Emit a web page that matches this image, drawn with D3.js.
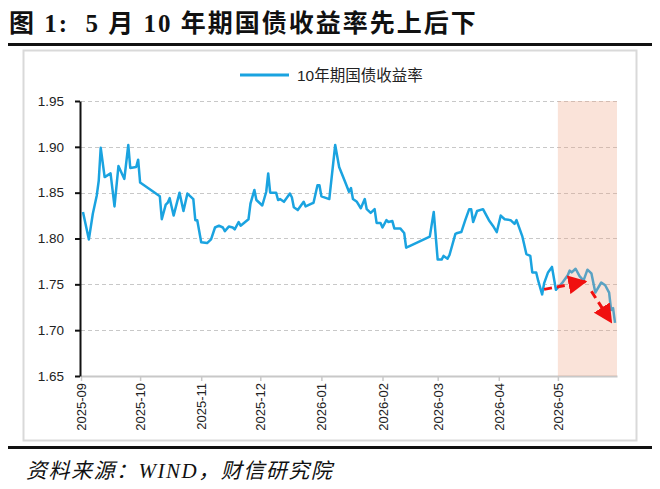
<!DOCTYPE html>
<html>
<head>
<meta charset="utf-8">
<script src="https://cdn.jsdelivr.net/npm/d3@7"></script>
<style>
  body { margin:0; background:#fff; }
  svg { display:block; }
</style>
</head>
<body>
<svg id="chart" width="660" height="489"></svg>
<script>
// data
const dates = [
  "2025-09-02","2025-09-05","2025-09-07","2025-09-09","2025-09-10","2025-09-11","2025-09-13","2025-09-16",
  "2025-09-18","2025-09-20","2025-09-23","2025-09-25","2025-09-26","2025-09-29","2025-09-30","2025-10-01",
  "2025-10-11","2025-10-12","2025-10-14","2025-10-15","2025-10-16","2025-10-18","2025-10-21","2025-10-23",
  "2025-10-25","2025-10-28","2025-10-29","2025-10-30","2025-11-01","2025-11-04","2025-11-06","2025-11-08",
  "2025-11-10","2025-11-12","2025-11-13","2025-11-15","2025-11-17","2025-11-18","2025-11-20","2025-11-21",
  "2025-11-25","2025-11-26","2025-11-28","2025-11-29","2025-12-02","2025-12-04","2025-12-05","2025-12-06",
  "2025-12-09","2025-12-10","2025-12-11","2025-12-13","2025-12-16","2025-12-17","2025-12-18","2025-12-20",
  "2025-12-23","2025-12-24","2025-12-27","2025-12-28","2025-12-30","2025-12-31","2026-01-01","2026-01-05",
  "2026-01-08","2026-01-10","2026-01-13","2026-01-15","2026-01-16","2026-01-17","2026-01-19","2026-01-21",
  "2026-01-23","2026-01-24","2026-01-26","2026-01-28","2026-01-29","2026-01-31","2026-02-01","2026-02-03",
  "2026-02-04","2026-02-06","2026-02-07","2026-02-10","2026-02-12","2026-02-13","2026-02-15","2026-02-25",
  "2026-02-27","2026-03-01","2026-03-03","2026-03-04","2026-03-06","2026-03-07","2026-03-10","2026-03-11",
  "2026-03-13","2026-03-15","2026-03-17","2026-03-18","2026-03-19","2026-03-21","2026-03-24","2026-03-27",
  "2026-03-29","2026-03-31","2026-04-02","2026-04-04","2026-04-07","2026-04-09","2026-04-10","2026-04-13",
  "2026-04-15","2026-04-17","2026-04-18","2026-04-20","2026-04-21","2026-04-23","2026-04-24","2026-04-26",
  "2026-04-28","2026-04-30","2026-05-03","2026-05-06","2026-05-07","2026-05-08","2026-05-10","2026-05-12",
  "2026-05-14","2026-05-16","2026-05-18","2026-05-20","2026-05-23","2026-05-25","2026-05-27","2026-05-28",
  "2026-05-29","2026-05-30"
];
const yields = [
  1.829,1.799,1.827,1.847,1.863,1.899,1.867,1.871,
  1.835,1.879,1.865,1.902,1.877,1.878,1.886,1.861,
  1.846,1.821,1.837,1.839,1.844,1.825,1.850,1.830,
  1.849,1.843,1.820,1.820,1.796,1.795,1.799,1.812,
  1.814,1.812,1.808,1.813,1.812,1.810,1.818,1.814,
  1.821,1.838,1.853,1.842,1.836,1.851,1.871,1.850,
  1.850,1.842,1.843,1.840,1.849,1.845,1.834,1.831,
  1.840,1.835,1.838,1.839,1.858,1.858,1.846,1.843,
  1.902,1.878,1.862,1.851,1.855,1.843,1.840,1.833,
  1.843,1.832,1.828,1.832,1.817,1.817,1.812,1.820,
  1.818,1.819,1.811,1.811,1.806,1.790,1.792,1.802,
  1.829,1.777,1.777,1.781,1.778,1.782,1.805,1.806,
  1.807,1.820,1.832,1.832,1.818,1.830,1.832,1.820,
  1.814,1.807,1.825,1.821,1.820,1.816,1.820,1.802,
  1.783,1.781,1.763,1.763,1.754,1.739,1.751,1.763,
  1.769,1.744,1.751,1.760,1.765,1.763,1.767,1.759,
  1.754,1.766,1.762,1.741,1.752,1.749,1.741,1.722,
  1.724,1.708
];
const seriesName = "10年期国债收益率";
const yTicks = [1.65, 1.70, 1.75, 1.80, 1.85, 1.90, 1.95];
const monthTicks = ["2025-09","2025-10","2025-11","2025-12","2026-01","2026-02","2026-03","2026-04","2026-05"];
const xDomain = ["2025-09-01", "2026-05-31"];
const shadeRange = ["2026-05-01", "2026-05-31"];
// red dashed arrows: [fromDate, fromValue, toDate, toValue]
const arrows = [
  ["2026-04-24", 1.7445, "2026-05-15", 1.7530],
  ["2026-05-18", 1.7425, "2026-05-28", 1.7090]
];

const title = "图 1:  5 月 10 年期国债收益率先上后下";
const source = "资料来源：WIND，财信研究院";

const parseDay = d3.timeParse("%Y-%m-%d");
const parseMonth = d3.timeParse("%Y-%m");

const svg = d3.select("#chart");
const plot = { left:81, right:617, top:101, bottom:376 };

const x = d3.scaleTime()
  .domain(xDomain.map(parseDay))
  .range([plot.left, plot.right]);
const y = d3.scaleLinear()
  .domain([1.65, 1.95])
  .range([plot.bottom, plot.top]);

const data = dates.map((d,i) => ({ date:parseDay(d), value:yields[i] }));

//title + rules
svg.append("text")
  .attr("x", 9).attr("y", 32)
  .attr("font-family", "'Liberation Serif', 'Noto Sans CJK SC'")
  .attr("font-weight", 700)
  .attr("font-size", 25)
  .attr("letter-spacing", 2)
  .style("white-space", "pre")
  .attr("fill", "#111")
  .text(title);

svg.append("line")
  .attr("x1", 8).attr("x2", 652).attr("y1", 44.5).attr("y2", 44.5)
  .attr("stroke", "#111").attr("stroke-width", 3);

svg.append("rect")
  .attr("x", 23.5).attr("y", 50.5).attr("width", 613).attr("height", 390)
  .attr("fill", "#fff").attr("stroke", "#d9d9d9").attr("stroke-width", 2);

svg.append("line")
  .attr("x1", 8).attr("x2", 652).attr("y1", 447.5).attr("y2", 447.5)
  .attr("stroke", "#111").attr("stroke-width", 3);

svg.append("text")
  .attr("x", 26).attr("y", 478)
  .attr("font-family", "'Liberation Serif', 'Noto Sans CJK SC'")
  .attr("font-style", "italic")
  .attr("font-size", 21)
  .attr("letter-spacing", 1.5)
  .attr("fill", "#111")
  .text(source);

//legend
const legendG = svg.append("g").attr("transform", "translate(240,75)");
legendG.append("line")
  .attr("x1", 0).attr("x2", 49)
  .attr("stroke", "#1aa3e0").attr("stroke-width", 3);
legendG.append("text")
  .attr("x", 57).attr("y", 5.5)
  .attr("font-family", "'Liberation Sans', 'Noto Sans CJK SC'")
  .attr("font-size", 15.5)
  .attr("fill", "#222")
  .text(seriesName);

//grid
svg.append("g")
  .selectAll("line")
  .data(yTicks.filter(t => t > 1.65))
  .join("line")
    .attr("x1", plot.left).attr("x2", plot.right)
    .attr("y1", d => Math.round(y(d)) + 0.5).attr("y2", d => Math.round(y(d)) + 0.5)
    .attr("stroke", "#c8c8c8")
    .attr("stroke-width", 1)
    .attr("stroke-dasharray", "4,3");

//x axis
const xAxis = d3.axisBottom(x)
  .tickValues(monthTicks.map(parseMonth))
  .tickFormat(d3.timeFormat("%Y-%m"))
  .tickSize(5)
  .tickSizeOuter(0);

const xAxisG = svg.append("g")
  .attr("transform", `translate(0,${plot.bottom})`)
  .call(xAxis);
xAxisG.select(".domain").attr("stroke", "#c8c8c8").attr("stroke-width", 2);
xAxisG.selectAll(".tick line").attr("stroke", "#c8c8c8").attr("stroke-width", 1.5);
xAxisG.selectAll(".tick text")
  .attr("font-family", "'Liberation Sans', Arial, sans-serif")
  .attr("font-size", 13)
  .attr("fill", "#222")
  .attr("transform", "rotate(-90)")
  .attr("text-anchor", "end")
  .attr("x", -7)
  .attr("y", 0)
  .attr("dy", "0.35em");

//line
const line = d3.line()
  .x(d => x(d.date))
  .y(d => y(d.value));

svg.append("path")
  .datum(data)
  .attr("fill", "none")
  .attr("stroke", "#1aa3e0")
  .attr("stroke-width", 2.5)
  .attr("stroke-linejoin", "round")
  .attr("d", line);

//may shading, drawn over the line
svg.append("rect")
  .attr("x", x(parseDay(shadeRange[0])))
  .attr("y", plot.top)
  .attr("width", x(parseDay(shadeRange[1])) - x(parseDay(shadeRange[0])))
  .attr("height", plot.bottom - plot.top)
  .attr("fill", "rgb(238,162,128)")
  .attr("fill-opacity", 0.3);

//y axis
const yAxis = d3.axisLeft(y)
  .tickValues(yTicks)
  .tickFormat(d3.format(".2f"))
  .tickSize(5)
  .tickSizeOuter(0);

const yAxisG = svg.append("g")
  .attr("transform", `translate(${plot.left - 1},0)`)
  .call(yAxis);
yAxisG.select(".domain").attr("stroke", "#111").attr("stroke-width", 2);
yAxisG.selectAll(".tick line").attr("stroke", "#111").attr("stroke-width", 2);
yAxisG.selectAll(".tick text")
  .attr("font-family", "'Liberation Sans', Arial, sans-serif")
  .attr("font-size", 13.5)
  .attr("fill", "#222")
  .attr("x", -16);

//arrows
svg.append("defs").append("marker")
  .attr("id", "arrowHead")
  .attr("viewBox", "0 0 10 10")
  .attr("refX", 9).attr("refY", 5)
  .attr("markerUnits", "userSpaceOnUse")
  .attr("markerWidth", 19).attr("markerHeight", 19)
  .attr("orient", "auto")
  .append("path")
    .attr("d", "M0,0 L10,5 L0,10 Z")
    .attr("fill", "#f01010");

svg.append("g")
  .selectAll("line")
  .data(arrows)
  .join("line")
    .attr("x1", d => x(parseDay(d[0])))
    .attr("y1", d => y(d[1]))
    .attr("x2", d => x(parseDay(d[2])))
    .attr("y2", d => y(d[3]))
    .attr("stroke", "#f01010")
    .attr("stroke-width", 3)
    .attr("stroke-dasharray", "8,5")
    .attr("marker-end", "url(#arrowHead)");
</script>
</body>
</html>
